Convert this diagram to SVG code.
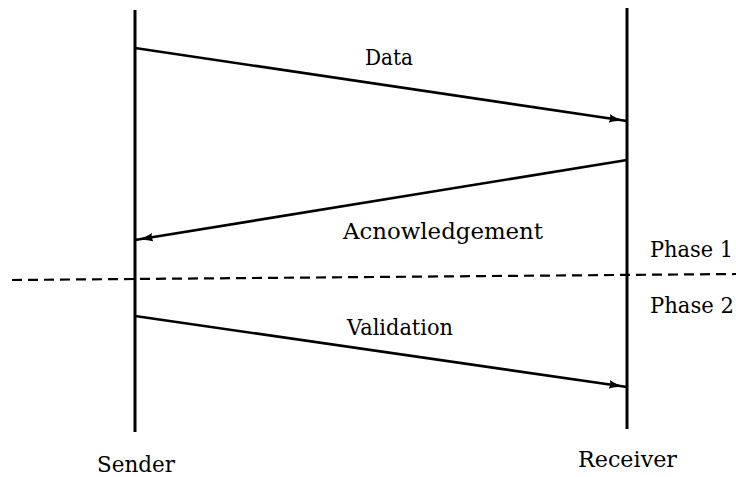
<svg xmlns="http://www.w3.org/2000/svg" width="736" height="477" viewBox="0 0 736 477">
  <style>
    .life { stroke: #000; stroke-width: 3; fill: none; }
    .msg { stroke: #000; stroke-width: 2.6; fill: none; }
    .phase { stroke: #000; stroke-width: 2.2; stroke-dasharray: 10 6; fill: none; }
    text { font-family: "DejaVu Serif", "Liberation Serif", serif; font-size: 22px; fill: #000; }
  </style>
  <defs>
    <!-- solid arrowhead shared by all messages -->
    <marker id="head" viewBox="0 0 18 10" refX="18" refY="5" markerWidth="18" markerHeight="10" markerUnits="userSpaceOnUse" orient="auto">
      <path d="M0,0.5 Q6,4 18,5 Q6,6 0,9.5 Q2,5 0,0.5 Z" fill="#000"/>
    </marker>
  </defs>
  <rect width="736" height="477" fill="#fff"/>

  <g id="sender">
    <line class="life" x1="135" y1="10" x2="135" y2="432"/>
    <text x="97" y="472" textLength="78" lengthAdjust="spacingAndGlyphs">Sender</text>
  </g>
  <g id="receiver">
    <line class="life" x1="627" y1="8" x2="627" y2="429"/>
    <text x="578" y="467" textLength="99" lengthAdjust="spacingAndGlyphs">Receiver</text>
  </g>

  <g id="phases">
    <line class="phase" x1="12" y1="280" x2="736" y2="274"/>
    <text x="650" y="257" textLength="83" lengthAdjust="spacingAndGlyphs">Phase 1</text>
    <text x="650" y="313" textLength="84" lengthAdjust="spacingAndGlyphs">Phase 2</text>
  </g>

  <g id="connectors">
    <line class="msg" x1="135" y1="48" x2="627" y2="121" marker-end="url(#head)"/>
    <line class="msg" x1="627" y1="160" x2="135" y2="240" marker-end="url(#head)"/>
    <line class="msg" x1="135" y1="316" x2="627" y2="387" marker-end="url(#head)"/>
  </g>

  <g id="labels">
    <text x="365" y="65" textLength="48" lengthAdjust="spacingAndGlyphs">Data</text>
    <text x="343" y="239" textLength="200" lengthAdjust="spacingAndGlyphs">Acnowledgement</text>
    <text x="347" y="335" textLength="106" lengthAdjust="spacingAndGlyphs">Validation</text>
  </g>
</svg>
